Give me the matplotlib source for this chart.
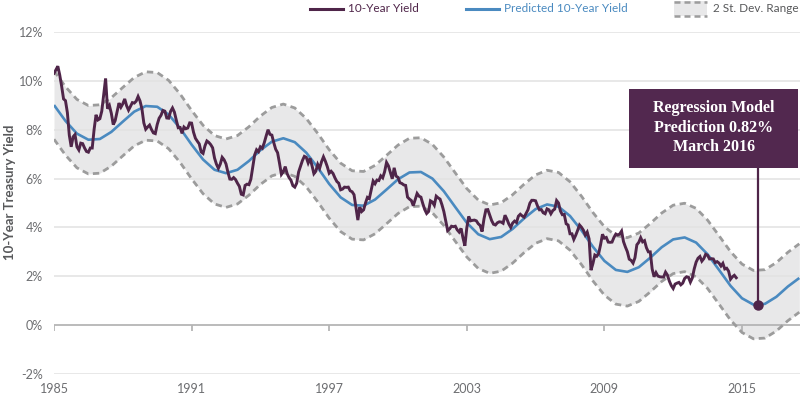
import numpy as np
import matplotlib
matplotlib.use("Agg")
import matplotlib.pyplot as plt
from matplotlib.lines import Line2D
from matplotlib.patches import Rectangle

# ---------------- data ----------------
# monthly 10-year yield (%), first point at chart x = 1985.0
yield_1985_1994 = [
    10.31, 10.45, 10.60, 10.24, 9.78, 9.26,
    9.19, 8.70, 7.78, 7.30, 7.71, 7.80, 7.30, 7.17, 7.45, 7.43, 7.25, 7.11,
    7.08, 7.25, 7.25, 8.02, 8.61, 8.40, 8.45, 8.76, 9.42, 10.10, 8.86, 8.99,
    8.67, 8.21, 8.37, 8.72, 9.09, 8.92, 9.06, 9.26, 8.98, 8.80, 8.96, 9.11,
    9.09, 9.17, 9.36, 9.18, 8.86, 8.28, 8.02, 8.11, 8.19, 8.01, 7.87, 7.84,
    8.21, 8.47, 8.59, 8.79, 8.76, 8.48, 8.47, 8.75, 8.89, 8.72, 8.39, 8.08,
    8.09, 7.85, 8.11, 8.04, 8.07, 8.28, 8.27, 7.90, 7.65, 7.53, 7.42, 7.09,
    7.03, 7.34, 7.54, 7.48, 7.39, 7.26, 6.84, 6.59, 6.42, 6.59, 6.87, 6.77,
    6.60, 6.26, 5.98, 5.97, 6.04, 5.96, 5.81, 5.68, 5.36, 5.33, 5.72, 5.77,
    5.75, 5.97, 6.48, 6.97, 7.18, 7.10, 7.30, 7.24, 7.46, 7.74, 8.00, 7.81,
]
yield_1995_2004 = [
    7.78, 7.47, 7.20, 7.06, 6.63, 6.17, 6.28, 6.49, 6.20, 6.04, 5.93, 5.71,
    5.65, 5.81, 6.27, 6.51, 6.74, 6.91, 6.87, 6.64, 6.83, 6.53, 6.20, 6.30,
    6.58, 6.42, 6.69, 6.89, 6.71, 6.49, 6.22, 6.30, 6.21, 6.03, 5.88, 5.81,
    5.54, 5.57, 5.65, 5.64, 5.65, 5.50, 5.46, 5.34, 4.81, 4.30, 4.83, 4.65,
    4.72, 5.00, 5.23, 5.18, 5.54, 5.90, 5.79, 5.94, 5.92, 6.11, 6.03, 6.28,
    6.66, 6.52, 6.26, 5.99, 6.44, 6.10, 6.05, 5.83, 5.80, 5.74, 5.72, 5.24,
    5.16, 5.10, 4.89, 5.14, 5.39, 5.28, 5.24, 4.97, 4.73, 4.57, 4.65, 5.09,
    5.04, 4.91, 5.28, 5.21, 5.16, 4.93, 4.65, 4.26, 3.87, 3.94, 4.05, 4.03,
    4.05, 3.90, 3.81, 3.96, 3.57, 3.25, 3.98, 4.45, 4.27, 4.29, 4.30, 4.27,
    4.15, 4.08, 3.83, 4.35, 4.72, 4.73, 4.50, 4.28, 4.13, 4.10, 4.19, 4.23,
]
yield_2005_2015 = [
    4.22, 4.17, 4.50, 4.34, 4.14, 4.00, 4.18, 4.26, 4.20, 4.46, 4.54, 4.47,
    4.42, 4.57, 4.72, 4.99, 5.11, 5.11, 5.09, 4.88, 4.72, 4.73, 4.60, 4.56,
    4.76, 4.72, 4.56, 4.69, 4.75, 5.10, 5.00, 4.67, 4.52, 4.53, 4.15, 4.10,
    3.74, 3.74, 3.51, 3.68, 3.88, 4.10, 4.01, 3.89, 3.69, 3.81, 3.53, 2.25,
    2.52, 2.87, 2.82, 2.93, 3.29, 3.72, 3.56, 3.59, 3.40, 3.39, 3.40, 3.59,
    3.73, 3.69, 3.73, 3.85, 3.42, 3.20, 3.01, 2.70, 2.65, 2.54, 2.76, 3.29,
    3.39, 3.58, 3.41, 3.46, 3.17, 3.00, 3.00, 2.30, 1.98, 2.15, 2.01, 1.98,
    1.97, 1.97, 2.17, 2.05, 1.80, 1.62, 1.50, 1.68, 1.72, 1.75, 1.65, 1.72,
    1.91, 1.98, 1.96, 1.76, 1.93, 2.30, 2.58, 2.74, 2.81, 2.62, 2.72, 2.90,
    2.86, 2.71, 2.72, 2.71, 2.56, 2.60, 2.54, 2.42, 2.53, 2.30, 2.33, 2.21,
    1.88, 1.98, 2.04, 1.94,
]
yield_start = 1985.0

# predicted 10-year yield (%), every half year from 1985.0
predicted = [
    9.01, 8.36, 7.84, 7.59, 7.62, 7.91, 8.33, 8.74, 8.97, 8.94,
    8.62, 8.06, 7.39, 6.78, 6.36, 6.22, 6.36, 6.72, 7.16, 7.51,
    7.65, 7.49, 7.06, 6.45, 5.78, 5.23, 4.92, 4.89, 5.14, 5.55,
    5.97, 6.25, 6.27, 6.00, 5.48, 4.83, 4.19, 3.72, 3.52, 3.61,
    3.94, 4.37, 4.75, 4.94, 4.85, 4.47, 3.88, 3.21, 2.63, 2.26,
    2.18, 2.37, 2.76, 3.19, 3.51, 3.59, 3.38, 2.90, 2.26, 1.61,
    1.10, 0.84, 0.87, 1.16, 1.58, 1.93,
]
pred_start = 1985.0
band_half_width = 1.4          # 2 st. dev.

prediction_point = (2015.7, 0.82)
annotation_lines = ["Regression Model", "Prediction 0.82%", "March 2016"]

y_ticks = [-2, 0, 2, 4, 6, 8, 10, 12]
y_tick_labels = ["-2%", "0%", "2%", "4%", "6%", "8%", "10%", "12%"]
x_ticks = [1985, 1991, 1997, 2003, 2009, 2015]
x_tick_labels = ["1985", "1991", "1997", "2003", "2009", "2015"]

# ---------------- styles ----------------
PURPLE = "#4f2549"
BOX = "#52284f"
BLUE = "#4a8ac0"
BAND = "#e8e8e9"
DASH = "#9c9c9c"
GRID = "#e2e2e2"
ZERO = "#b5b5b5"
TICKTXT = "#6d6e71"
FONT = "Lato"

W, H = 800, 395
fig = plt.figure(figsize=(W / 100, H / 100), dpi=100)
ax = fig.add_axes([54 / W, 21 / H, 746 / W, 342 / H])
ax.set_xlim(1985, 2017.53)
ax.set_ylim(-2, 12)
for s in ax.spines.values():
    s.set_visible(False)

yields = np.array(yield_1985_1994 + yield_1995_2004 + yield_2005_2015)
yx = yield_start + np.arange(len(yields)) / 12.0
pred = np.array(predicted)
px = pred_start + np.arange(len(pred)) * 0.5

ax.fill_between(px, pred - band_half_width, pred + band_half_width,
                color=BAND, lw=0, zorder=1)
for v in y_ticks:
    if v == 0:
        ax.axhline(v, color=ZERO, lw=1.3, zorder=2)
    else:
        ax.axhline(v, color=GRID, lw=1.1, zorder=2)
ax.vlines(x_ticks, -0.22, 0, color=ZERO, lw=1.3, zorder=2)

dash = (0, (2.3, 1.6))
ax.plot(px, pred + band_half_width, color=DASH, lw=2.0, ls=dash, zorder=3)
ax.plot(px, pred - band_half_width, color=DASH, lw=2.0, ls=dash, zorder=3)
ax.plot(px, pred, color=BLUE, lw=1.9, zorder=4, solid_capstyle="butt")
ax.plot(yx, yields, color=PURPLE, lw=2.1, zorder=5, solid_joinstyle="miter")

# annotation
bx0, by0, bx1, by1 = 2010.08, 6.43, 2017.45, 9.66
ax.plot([prediction_point[0]] * 2, [prediction_point[1], by0],
        color=PURPLE, lw=1.6, zorder=6)
ax.plot(*prediction_point, "o", color=PURPLE, ms=6.5, zorder=7)
ax.add_patch(Rectangle((bx0, by0), bx1 - bx0, by1 - by0,
                       facecolor=BOX, edgecolor="none", zorder=8))
for ty, t in zip([8.88, 8.08, 7.29], annotation_lines):
    ax.text((bx0 + bx1) / 2, ty, t, color="white", ha="center", va="center",
            fontsize=11.5, family="Liberation Serif", fontweight="bold",
            zorder=9)

# ticks
ax.set_yticks(y_ticks)
ax.set_yticklabels(y_tick_labels)
ax.set_xticks(x_ticks)
ax.set_xticklabels(x_tick_labels)
ax.tick_params(length=0, colors=TICKTXT, labelsize=9)
ax.tick_params(axis="y", pad=8)
ax.tick_params(axis="x", pad=6.5)
for lab in ax.get_xticklabels() + ax.get_yticklabels():
    lab.set_family(FONT)

fig.text(10 / W, 203 / H, "10-Year Treasury Yield", rotation=90,
         ha="center", va="center", fontsize=9.5, fontweight="bold",
         color="#58595b", family=FONT)

# legend
ly = 1 - 8.5 / H
fig.add_artist(Line2D([310 / W, 343 / W], [ly, ly], color=PURPLE, lw=2.2))
fig.text(348 / W, ly, "10-Year Yield", color=PURPLE, fontsize=8.5,
         va="center", family=FONT)
fig.add_artist(Line2D([466 / W, 499 / W], [ly, ly], color=BLUE, lw=2.2))
fig.text(504 / W, ly, "Predicted 10-Year Yield", color=BLUE, fontsize=8.5,
         va="center", family=FONT)
fig.add_artist(Rectangle((674 / W, 1 - 16 / H), 33 / W, 15 / H,
                         facecolor=BAND, edgecolor="none"))
for yy in [1 - 1.5 / H, 1 - 15.5 / H]:
    fig.add_artist(Line2D([674 / W, 707 / W], [yy, yy], color=DASH, lw=1.8,
                          ls=(0, (2.4, 1.6))))
fig.text(713 / W, ly, "2 St. Dev. Range", color="#58595b", fontsize=8.5,
         va="center", family=FONT)

fig.savefig("out.png", dpi=100)
